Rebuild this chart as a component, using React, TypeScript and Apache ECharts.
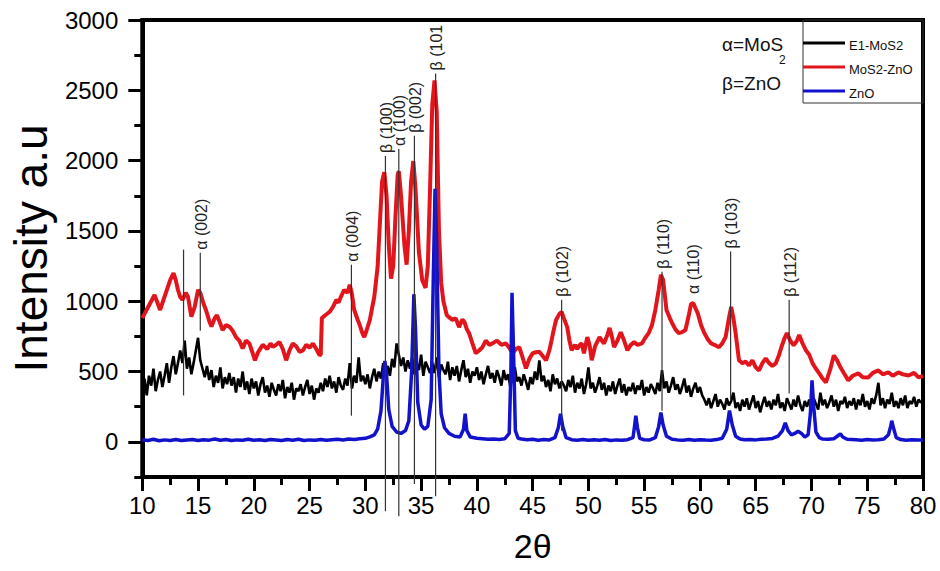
import React, { useEffect, useRef } from 'react';
import * as echarts from 'echarts';

const legendNames = ['E1-MoS2', 'MoS2-ZnO', 'ZnO'];
const yMajorTicks = [0, 500, 1000, 1500, 2000, 2500, 3000];

// E1-MoS2 (black), sampled every 0.2 degrees from 10 to 80
const blackStart = 10;
const blackStep = 0.2;
const blackValues = [
  380, 450, 330, 470, 400, 520, 360, 440, 500, 390,
  470, 560, 420, 530, 610, 480, 560, 650, 560, 720,
  520, 600, 480, 560, 650, 740, 580, 520, 460, 540,
  440, 510, 390, 470, 420, 530, 380, 460, 410, 490,
  400, 460, 350, 450, 390, 500, 370, 430, 340, 450,
  380, 430, 330, 410, 460, 350, 400, 320, 420, 370,
  330, 410, 360, 440, 310, 390, 350, 420, 300, 380,
  360, 410, 330, 390, 440, 340, 400, 300, 380, 350,
  420, 360, 450, 390, 470, 380, 430, 350, 460, 400,
  370, 450, 400, 560, 380, 470, 420, 600, 430, 470,
  410, 480, 380, 460, 520, 430, 500, 450, 560, 480,
  540, 470, 590, 530, 700, 620, 540, 600, 500, 580,
  520, 600, 480, 560, 510, 620, 470, 570, 530, 490,
  560, 490, 600, 460, 550, 510, 480, 570, 440, 530,
  470, 540, 430, 510, 580, 460, 520, 420, 500, 470,
  530, 440, 500, 410, 480, 540, 450, 490, 420, 510,
  460, 400, 510, 440, 480, 390, 470, 530, 430, 460,
  400, 480, 430, 370, 460, 410, 500, 440, 580, 430,
  470, 390, 440, 360, 480, 410, 450, 380, 430, 400,
  360, 440, 390, 470, 350, 420, 380, 450, 340, 410,
  530, 380, 420, 350, 400, 460, 370, 420, 330, 400,
  360, 430, 340, 400, 450, 350, 410, 330, 390, 360,
  420, 340, 400, 370, 440, 330, 390, 350, 410, 380,
  340, 420, 360, 510, 380, 430, 350, 400, 460, 370,
  410, 340, 390, 450, 350, 400, 320, 380, 420, 350,
  390, 330, 300, 260, 310, 240, 290, 340, 250, 300,
  270, 230, 310, 260, 290, 350, 240, 280, 220, 300,
  250, 310, 230, 280, 330, 240, 290, 210, 270, 320,
  250, 290, 230, 300, 260, 340, 240, 280, 220, 310,
  270, 230, 300, 250, 330, 260, 220, 290, 250, 300,
  240, 310, 270, 230, 350, 260, 300, 240, 280, 330,
  250, 300, 220, 290, 270, 320, 240, 290, 260, 310,
  230, 300, 260, 340, 250, 290, 230, 310, 270, 330,
  420, 260, 310, 240, 300, 270, 350, 250, 290, 240,
  310, 260, 330, 240, 290, 270, 320, 250, 300, 280,
  290,
];

// MoS2-ZnO (red): [2theta, intensity]
const redPoints = [
  [10.0, 880], [10.4, 940], [10.8, 1000], [11.1, 1045], [11.4, 980], [11.6, 938], [11.9, 1010],
  [12.2, 1080], [12.5, 1150], [12.8, 1200], [13.0, 1150], [13.2, 1080], [13.4, 1030], [13.6, 1010],
  [13.9, 1060], [14.1, 1030], [14.4, 890], [14.7, 960], [15.0, 1080], [15.2, 1060], [15.5, 980],
  [15.7, 940], [16.0, 860], [16.2, 820], [16.5, 880], [16.7, 900], [17.0, 840], [17.2, 795],
  [17.5, 830], [17.8, 820], [18.1, 790], [18.4, 745], [18.7, 720], [19.0, 665], [19.3, 720],
  [19.6, 700], [19.9, 630], [20.1, 580], [20.4, 640], [20.8, 690], [21.2, 660], [21.5, 700],
  [21.7, 675], [22.0, 690], [22.3, 710], [22.6, 660], [22.9, 580], [23.2, 650], [23.5, 700],
  [23.8, 680], [24.1, 640], [24.4, 650], [24.7, 690], [25.0, 670], [25.3, 700], [25.6, 660],
  [25.9, 615], [26.0, 620], [26.1, 880], [26.4, 900], [26.8, 925], [27.1, 960], [27.4, 1010],
  [27.6, 990], [27.8, 1030], [28.1, 1080], [28.4, 1060], [28.6, 1117], [28.8, 1050], [29.0, 938],
  [29.3, 870], [29.5, 830], [29.7, 780], [29.9, 745], [30.1, 790], [30.4, 866], [30.6, 950],
  [30.8, 1030], [31.1, 1245], [31.3, 1550], [31.5, 1850], [31.7, 1918], [31.9, 1750], [32.1, 1400],
  [32.3, 1160], [32.5, 1250], [32.7, 1600], [32.9, 1900], [33.0, 1925], [33.2, 1750], [33.5, 1400],
  [33.7, 1260], [33.9, 1500], [34.1, 1850], [34.3, 1997], [34.5, 1800], [34.8, 1350], [35.1, 1150],
  [35.4, 1095], [35.6, 1250], [35.8, 1800], [36.0, 2400], [36.2, 2570], [36.4, 2350], [36.6, 1500],
  [36.8, 1130], [37.0, 1000], [37.3, 900], [37.6, 880], [37.8, 866], [38.1, 880], [38.4, 816],
  [38.7, 870], [38.9, 850], [39.1, 800], [39.3, 773], [39.6, 700], [39.9, 630], [40.2, 650],
  [40.5, 673], [40.8, 720], [41.1, 690], [41.4, 700], [41.8, 720], [42.2, 690], [42.6, 700],
  [42.9, 670], [43.2, 630], [43.5, 660], [43.8, 673], [44.1, 600], [44.4, 522], [44.7, 590],
  [45.0, 630], [45.3, 637], [45.6, 640], [45.9, 610], [46.2, 580], [46.5, 650], [46.7, 723],
  [46.9, 800], [47.1, 866], [47.4, 910], [47.6, 923], [47.8, 880], [48.1, 816], [48.3, 720],
  [48.5, 651], [48.8, 690], [49.0, 660], [49.2, 687], [49.4, 700], [49.6, 630], [49.9, 745],
  [50.1, 690], [50.3, 580], [50.6, 680], [51.0, 745], [51.2, 720], [51.4, 700], [51.7, 760],
  [51.9, 810], [52.1, 750], [52.3, 673], [52.6, 720], [52.9, 780], [53.2, 720], [53.5, 651],
  [53.8, 690], [54.1, 709], [54.4, 690], [54.8, 700], [55.1, 740], [55.4, 773], [55.7, 830],
  [56.0, 938], [56.3, 1080], [56.5, 1188], [56.7, 1150], [57.0, 938], [57.3, 880], [57.5, 845],
  [57.8, 800], [58.1, 773], [58.4, 780], [58.7, 795], [59.0, 900], [59.2, 980], [59.4, 988],
  [59.6, 950], [59.8, 916], [60.1, 830], [60.4, 773], [60.7, 730], [61.0, 700], [61.3, 690],
  [61.7, 673], [62.0, 700], [62.3, 745], [62.6, 880], [62.8, 960], [63.0, 880], [63.2, 773],
  [63.5, 580], [63.8, 560], [64.1, 570], [64.4, 544], [64.7, 580], [65.0, 530], [65.3, 508],
  [65.6, 560], [65.9, 594], [66.2, 560], [66.5, 540], [66.8, 558], [67.1, 620], [67.3, 673],
  [67.6, 740], [67.8, 773], [68.1, 720], [68.4, 687], [68.7, 720], [68.9, 759], [69.2, 700],
  [69.5, 651], [69.8, 620], [70.1, 558], [70.4, 520], [70.7, 487], [71.0, 450], [71.3, 422],
  [71.7, 520], [72.0, 615], [72.3, 580], [72.6, 530], [72.9, 490], [73.3, 437], [73.7, 470],
  [74.2, 487], [74.6, 460], [75.1, 458], [75.5, 490], [76.0, 508], [76.4, 480], [76.9, 494],
  [77.3, 470], [77.8, 494], [78.2, 480], [78.7, 472], [79.2, 490], [79.6, 458], [80.0, 470],
];

// ZnO (blue): [2theta, intensity]
const bluePoints = [
  [10, 15], [10.5, 10], [11, 18], [11.5, 8], [12, 14], [12.5, 10], [13, 16], [13.5, 9], [14, 13],
  [14.5, 17], [15, 10], [15.5, 15], [16, 12], [16.5, 20], [17, 11], [17.5, 16], [18, 9], [18.5, 14],
  [19, 12], [19.5, 18], [20, 11], [20.5, 15], [21, 10], [21.5, 17], [22, 13], [22.5, 9], [23, 16],
  [23.5, 12], [24, 18], [24.5, 10], [25, 14], [25.5, 12], [26, 17], [26.5, 11], [27, 15], [27.5, 18],
  [28, 13], [28.5, 20], [29, 16], [29.5, 22], [30, 25], [30.4, 35], [30.8, 50], [31.1, 90],
  [31.4, 220], [31.6, 450], [31.75, 575], [31.9, 480], [32.1, 230], [32.4, 110], [32.8, 70],
  [33.2, 60], [33.6, 80], [33.9, 150], [34.15, 500], [34.35, 1050], [34.5, 800], [34.7, 280],
  [35.0, 120], [35.3, 90], [35.6, 110], [35.9, 300], [36.1, 1200], [36.25, 1800], [36.4, 1400],
  [36.6, 500], [36.8, 200], [37.1, 100], [37.5, 60], [38.0, 40], [38.5, 35], [38.8, 90],
  [38.95, 200], [39.1, 80], [39.4, 35], [40, 25], [40.5, 22], [41, 18], [41.5, 20], [42, 17],
  [42.5, 22], [42.9, 60], [43.05, 500], [43.15, 1060], [43.3, 600], [43.45, 80], [43.7, 25],
  [44, 20], [44.5, 15], [45, 18], [45.5, 12], [46, 16], [46.5, 14], [47, 30], [47.3, 100],
  [47.5, 200], [47.7, 110], [48, 30], [48.5, 15], [49, 12], [49.5, 17], [50, 11], [50.5, 15],
  [51, 12], [51.5, 16], [52, 10], [52.5, 14], [53, 12], [53.5, 15], [54, 30], [54.15, 120],
  [54.25, 186], [54.4, 100], [54.6, 25], [55, 15], [55.5, 14], [56, 30], [56.3, 110], [56.5, 208],
  [56.7, 120], [57, 40], [57.5, 18], [58, 14], [58.5, 12], [59, 16], [59.5, 11], [60, 15],
  [60.5, 13], [61, 12], [61.5, 16], [62, 25], [62.4, 90], [62.65, 222], [62.9, 120], [63.2, 40],
  [63.6, 20], [64, 15], [64.5, 16], [65, 14], [65.5, 18], [66, 20], [66.5, 24], [67, 40],
  [67.4, 80], [67.65, 136], [67.9, 80], [68.2, 50], [68.5, 60], [68.8, 75], [69.1, 60], [69.4, 35],
  [69.7, 50], [69.9, 200], [70.05, 437], [70.2, 250], [70.4, 70], [70.7, 30], [71, 20], [71.5, 18],
  [72, 22], [72.4, 45], [72.6, 57], [72.8, 35], [73.2, 18], [74, 15], [74.5, 12], [75, 16],
  [75.5, 14], [76, 15], [76.5, 20], [76.9, 50], [77.1, 110], [77.2, 150], [77.35, 100], [77.6, 30],
  [78, 16], [78.5, 12], [79, 15], [79.5, 13], [80, 14],
];

// Peak markers
const peakX = [13.7, 15.2, 28.75, 31.8, 33.0, 34.4, 36.3, 47.6, 56.6, 59.3, 62.75, 68.0];
const peakTop = [1367, 1345, 1260, 2033, 2083, 2176, 2620, 1010, 1210, 1030, 1353, 1010];
const peakBottom = [330, 790, 186, -494, -530, -300, -387, 79, 222, 1030, 293, 344];
const peakLabels = ['', 'α (002)', 'α (004)', 'β (100)', 'α (100)', 'β (002)', 'β (101', 'β (102)', 'β (110)', 'α (110)', 'β (103)', 'β (112)'];

const FONT = 'Liberation Sans, Arial, sans-serif';

export default function App() {
  const ref = useRef<HTMLDivElement>(null);
  useEffect(() => {
    const chart = echarts.init(ref.current!, null, { renderer: 'svg' });
    const blackData = blackValues.map((v, i) => [blackStart + i * blackStep, v]);
    const annData = peakX.map((x, i) => [x, peakTop[i], peakBottom[i], i]);
    const legendColors = ['#000000', '#e2151c', '#1212cc'];
    const legendGraphics: any[] = [
      { type: 'rect', shape: { x: 803, y: 20, width: 120, height: 83 }, style: { fill: 'none', stroke: '#333', lineWidth: 1 }, z: 100 },
    ];
    legendNames.forEach((n, i) => {
      const y = 43 + i * 24;
      legendGraphics.push({ type: 'line', shape: { x1: 803, y1: y, x2: 845, y2: y }, style: { stroke: legendColors[i], lineWidth: 3 }, z: 100 });
      legendGraphics.push({ type: 'text', x: 849, y: y + 2, style: { text: n, fontSize: 13, fontFamily: FONT, fill: '#111', verticalAlign: 'middle' }, z: 100 });
    });
    legendGraphics.push({ type: 'text', x: 722, y: 44, style: { text: 'α=MoS', fontSize: 19, fontFamily: FONT, fill: '#111', verticalAlign: 'middle' }, z: 100 });
    legendGraphics.push({ type: 'text', x: 779, y: 60, style: { text: '2', fontSize: 12, fontFamily: FONT, fill: '#111', verticalAlign: 'middle' }, z: 100 });
    legendGraphics.push({ type: 'text', x: 722, y: 83, style: { text: 'β=ZnO', fontSize: 19, fontFamily: FONT, fill: '#111', verticalAlign: 'middle' }, z: 100 });

    chart.setOption({
      animation: false,
      backgroundColor: '#ffffff',
      grid: { left: 142, right: 17, top: 20, bottom: 94, show: true, borderColor: '#000', borderWidth: 4 },
      xAxis: {
        type: 'value', min: 10, max: 80, interval: 5,
        axisLine: { show: true, onZero: false, lineStyle: { color: '#000', width: 4 } },
        axisTick: { show: true, inside: false, length: 14, lineStyle: { color: '#000', width: 3 } },
        minorTick: { show: true, splitNumber: 2, length: 8, lineStyle: { color: '#000', width: 3 } },
        splitLine: { show: false },
        axisLabel: { fontSize: 24, color: '#000', fontFamily: FONT, margin: 16 },
        name: '2θ', nameLocation: 'middle', nameGap: 52,
        nameTextStyle: { fontSize: 34, color: '#000', fontFamily: FONT },
      },
      yAxis: [
        {
          type: 'value', min: -250, max: 3000, interval: 250,
          axisLine: { show: true, onZero: false, lineStyle: { color: '#000', width: 4 } },
          axisTick: { show: true, inside: false, length: 8, lineStyle: { color: '#000', width: 3 } },
          splitLine: { show: false },
          axisLabel: {
            fontSize: 24, color: '#000', fontFamily: FONT, margin: 24,
            formatter: (v: number) => (yMajorTicks.indexOf(v) >= 0 ? String(v) : ''),
          },
          name: 'Intensity a.u', nameLocation: 'middle', nameGap: 86,
          nameTextStyle: { fontSize: 46, color: '#000', fontFamily: FONT },
        },
        {
          type: 'value', min: -250, max: 3000, position: 'left',
          axisLine: { show: false, onZero: false },
          axisTick: { show: true, inside: false, length: 14, lineStyle: { color: '#000', width: 3 }, customValues: yMajorTicks },
          axisLabel: { show: false },
          splitLine: { show: false },
        },
      ],
      series: [
        { name: legendNames[0], type: 'line', data: blackData, symbol: 'none', lineStyle: { color: '#000', width: 2.6 }, z: 2 },
        { name: legendNames[1], type: 'line', data: redPoints, symbol: 'none', lineStyle: { color: '#e2151c', width: 4 }, z: 3 },
        { name: legendNames[2], type: 'line', data: bluePoints, symbol: 'none', lineStyle: { color: '#1212cc', width: 3.5 }, z: 4 },
        {
          type: 'custom', data: annData, clip: false, silent: true, z: 10,
          encode: { x: 0, y: 1 },
          renderItem: (params: any, api: any) => {
            const x = api.value(0);
            const p1 = api.coord([x, api.value(1)]);
            const p2 = api.coord([x, api.value(2)]);
            const label = peakLabels[api.value(3)];
            const children: any[] = [
              { type: 'line', shape: { x1: p1[0], y1: p1[1], x2: p2[0], y2: p2[1] }, style: { stroke: '#333', lineWidth: 1.2 } },
            ];
            if (label) {
              children.push({
                type: 'text', x: p1[0] + 1, y: p1[1] - 3, rotation: Math.PI / 2,
                style: { text: label, fontSize: 16, fontFamily: FONT, fill: '#222', align: 'left', verticalAlign: 'middle' },
              });
            }
            return { type: 'group', children };
          },
        },
      ],
      graphic: legendGraphics,
    });
    return () => chart.dispose();
  }, []);
  return <div ref={ref} style={{ position: 'absolute', left: 0, top: 0, width: 940, height: 571 }} />;
}
